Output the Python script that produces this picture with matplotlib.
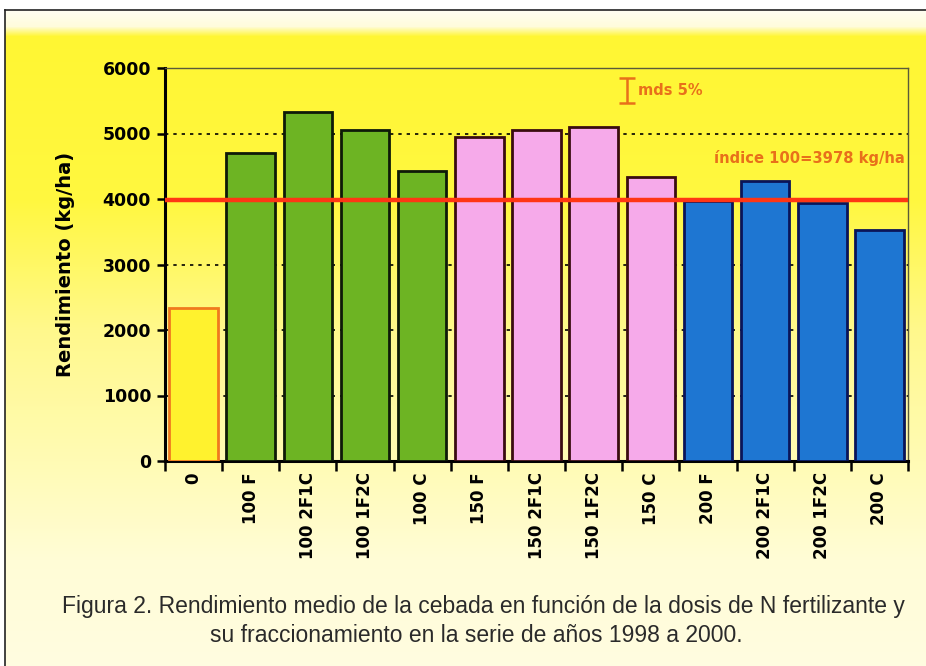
import numpy as np
import matplotlib
matplotlib.use("Agg")
import matplotlib.pyplot as plt

# ---- data ----
categories = ["0", "100 F", "100 2F1C", "100 1F2C", "100 C",
              "150 F", "150 2F1C", "150 1F2C", "150 C",
              "200 F", "200 2F1C", "200 1F2C", "200 C"]
rendimiento = [2330, 4695, 5330, 5050, 4424,
               4950, 5050, 5100, 4340,
               3965, 4272, 3932, 3525]
groups = ["0"] + ["100"] * 4 + ["150"] * 4 + ["200"] * 4
indice_100 = 3978
mds_center = 5655
mds_value = 380
yticks = [0, 1000, 2000, 3000, 4000, 5000, 6000]

fill = {"0": "#FFF22E", "100": "#6DB423", "150": "#F6AAEA", "200": "#1E76D2"}
edge = {"0": "#F07A1E", "100": "#0E1A08", "150": "#3A0C10", "200": "#0A1458"}

W, H = 926, 666
fig = plt.figure(figsize=(W / 100, H / 100), dpi=100)

# ---- background gradient ----
bg = fig.add_axes([0, 0, 1, 1], zorder=-10)
rows = np.arange(H)
stops_y = [0, 26, 36, 200, 330, 470, 560, 666]
stops_c = [(1, 1, 1), (1, 0.99, 0.86), (1, 0.965, 0.2), (1, 0.97, 0.25),
           (1, 0.975, 0.55), (1, 0.985, 0.72), (1, 0.99, 0.84), (1, 0.992, 0.88)]
img = np.zeros((H, W, 3))
for k in range(3):
    col = np.interp(rows, stops_y, [c[k] for c in stops_c])
    img[:, :, k] = col[:, None]
img[:10, :, :] = 1.0
img[:, :5, :] = 1.0
bg.imshow(img, extent=[0, W, H, 0], aspect="auto")
bg.plot([5, W], [10, 10], color="#222222", lw=1.2)
bg.plot([5, 5], [10, H], color="#222222", lw=1.2)
bg.set_xlim(0, W)
bg.set_ylim(H, 0)
bg.axis("off")

# ---- main axes ----
left, right, top, bottom = 165, 908, 68, 461
ax = fig.add_axes([left / W, 1 - bottom / H, (right - left) / W, (bottom - top) / H])
ax.set_facecolor("none")

x = np.arange(len(categories))
ax.bar(x, rendimiento, width=0.85,
       color=[fill[g] for g in groups],
       edgecolor=[edge[g] for g in groups], linewidth=2.0, zorder=3)

ax.set_xlim(-0.5, len(categories) - 0.5)
ax.set_ylim(0, 6000)

for yv in yticks[1:-1]:
    ax.axhline(yv, color="black", lw=1.2, ls=(0, (2, 3)), zorder=1)

ax.axhline(indice_100, color="#FF3614", lw=3.2, zorder=4)

ax.set_yticks(yticks)
ax.set_yticklabels([str(v) for v in yticks], fontsize=12.5, fontweight="bold")
ax.tick_params(axis="y", direction="out", length=6, width=1.8, pad=4)

ax.set_xticks(np.arange(-0.5, len(categories), 1.0))
ax.set_xticklabels([])
ax.tick_params(axis="x", which="major", direction="out", length=7, width=1.8)
ax.set_xticks(x, minor=True)
ax.set_xticklabels(categories, minor=True, rotation=90, fontsize=12,
                   fontweight="bold", va="top", ha="center")
ax.tick_params(axis="x", which="minor", length=0, pad=8)

for s in ["left", "bottom"]:
    ax.spines[s].set_linewidth(2.2)
    ax.spines[s].set_color("black")
for s in ["top", "right"]:
    ax.spines[s].set_linewidth(1.0)
    ax.spines[s].set_color("#5a5a3a")

ax.set_ylabel("Rendimiento (kg/ha)", fontsize=14, fontweight="bold", labelpad=20)

# mds error bar
ax.errorbar([7.58], [mds_center], yerr=[mds_value / 2], color="#E8701A",
            capsize=6, lw=1.8, capthick=1.8, zorder=5)
ax.text(7.78, mds_center, "mds 5%", color="#E8701A", fontsize=10.5,
        fontweight="bold", va="center", ha="left")
ax.text(12.45, 4620, "índice 100=3978 kg/ha", color="#E8701A", fontsize=10.6,
        fontweight="bold", va="center", ha="right")

# caption
cap_font = ["Liberation Sans", "DejaVu Sans"]
fig.text(483 / W, 1 - 606 / H,
         "Figura 2. Rendimiento medio de la cebada en función de la dosis de N fertilizante y",
         ha="center", va="center", fontsize=16.5, family=cap_font, color="#2a2a2a")
fig.text(476 / W, 1 - 636 / H,
         "su fraccionamiento en la serie de años 1998 a 2000.",
         ha="center", va="center", fontsize=16.5, family=cap_font, color="#2a2a2a")

fig.savefig("out.png", dpi=100)
